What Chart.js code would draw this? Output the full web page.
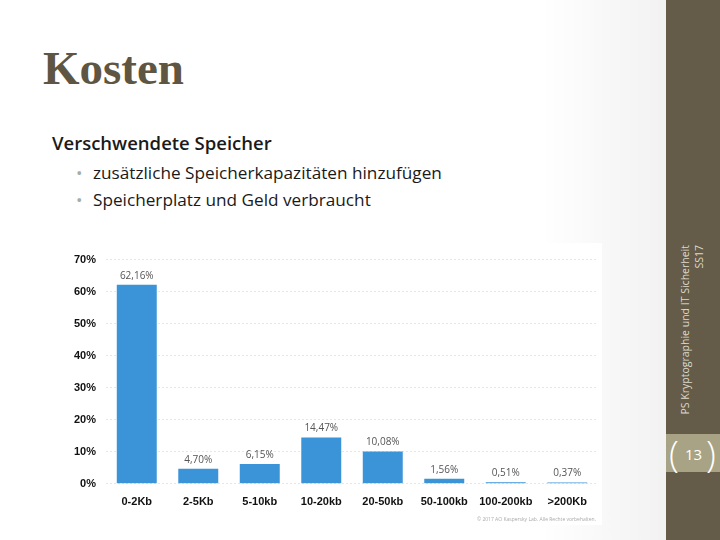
<!DOCTYPE html>
<html>
<head>
<meta charset="utf-8">
<script src="https://cdn.jsdelivr.net/npm/chart.js@4"></script>
<style>
  body { margin: 0; width: 720px; height: 540px; overflow: hidden; font-family: "Open Sans", sans-serif; }
  #slide { position: relative; width: 720px; height: 540px; background: linear-gradient(to right, #ffffff 0%, #ffffff 75%, #ececec 100%); }
  #titel { position: absolute; left: 43px; top: 41px; font-family: "Liberation Serif", serif; font-weight: bold; font-size: 47px; color: #5e5643; }
  #unter { position: absolute; left: 52px; top: 130px; font-size: 18.5px; font-weight: 600; color: #1a1a1a; }
  .punkt { position: absolute; left: 93px; font-size: 17.2px; color: #1a1a1a; }
  .punkt::before { content: "\2022"; position: absolute; left: -17px; color: #9fb0ac; }
  #leiste { position: absolute; left: 666px; top: 0; width: 54px; height: 540px; background: #645c48; }
  #seitennr { position: absolute; left: 666px; top: 434px; width: 54px; height: 38px; background: #a7a384; color: #fff; }
  #seitennr span { position: absolute; }
  #fuss { position: absolute; left: 678px; top: 245px; width: 172px; height: 34px; transform-origin: 0 0; transform: translate(0, 172px) rotate(-90deg); font-size: 10.5px; line-height: 14px; color: #ddd9c8; text-align: right; }
  #bild { position: absolute; left: 60px; top: 243px; width: 542px; height: 282px; background: #fff; }
  #copy { position: absolute; right: 6px; bottom: 3px; font-size: 5px; color: #aaa; }
</style>
</head>
<body>
<div id="slide">
  <div id="titel">Kosten</div>
  <div id="unter">Verschwendete Speicher</div>
  <div class="punkt" style="top:161px">zusätzliche Speicherkapazitäten hinzufügen</div>
  <div class="punkt" style="top:188px">Speicherplatz und Geld verbraucht</div>
  <div id="bild">
    <canvas id="grafik" width="542" height="282"></canvas>
    <div id="copy">© 2017 AO Kaspersky Lab. Alle Rechte vorbehalten.</div>
  </div>
  <div id="leiste"></div>
  <div id="fuss">PS Kryptographie und IT Sicherheit<br>SS17</div>
  <div id="seitennr">
    <span style="left:3px;top:-5px;font-size:36px;font-weight:300">(</span>
    <span style="left:19px;top:10px;font-size:15px">13</span>
    <span style="left:40px;top:-5px;font-size:36px;font-weight:300">)</span>
  </div>
</div>
<script>
var kategorien = ["0-2Kb", "2-5Kb", "5-10kb", "10-20kb", "20-50kb", "50-100kb", "100-200kb", ">200Kb"];
var anteile = [62.16, 4.70, 6.15, 14.47, 10.08, 1.56, 0.51, 0.37];

function formatProzent(v) {
  return v.toFixed(2).replace(".", ",") + "%";
}

var werteBeschriftung = {
  id: "werteBeschriftung",
  afterDatasetsDraw: function (chart) {
    var ctx = chart.ctx;
    var meta = chart.getDatasetMeta(0);
    ctx.save();
    ctx.font = "10px 'Open Sans', sans-serif";
    ctx.fillStyle = "#555";
    ctx.textAlign = "center";
    ctx.textBaseline = "bottom";
    meta.data.forEach(function (bar, i) {
      ctx.fillText(formatProzent(anteile[i]), bar.x, bar.y - 4);
    });
    ctx.restore();
  }
};

var ctx = document.getElementById("grafik").getContext("2d");
new Chart(ctx, {
  type: "bar",
  data: {
    labels: kategorien,
    datasets: [{ data: anteile, backgroundColor: "#3b93d8", categoryPercentage: 1, barPercentage: 0.65 }]
  },
  options: {
    responsive: false,
    animation: false,
    layout: { padding: { left: 4, right: 4, top: 0, bottom: 12 } },
    plugins: { legend: { display: false }, tooltip: { enabled: false } },
    scales: {
      x: {
        grid: { display: false },
        border: { display: false },
        ticks: { color: "#111", maxRotation: 0, autoSkip: false, font: { family: "'Liberation Sans', sans-serif", weight: "bold", size: 11 }, padding: 4 }
      },
      y: {
        min: 0, max: 70,
        grid: { color: "#e6e6e6", tickLength: 0 },
        border: { display: false, dash: [2, 2] },
        ticks: {
          stepSize: 10,
          color: "#111",
          padding: 10,
          font: { family: "'Liberation Sans', sans-serif", weight: "bold", size: 11 },
          callback: function (v) { return v + "%"; }
        }
      }
    }
  },
  plugins: [werteBeschriftung]
});
</script>
</body>
</html>
